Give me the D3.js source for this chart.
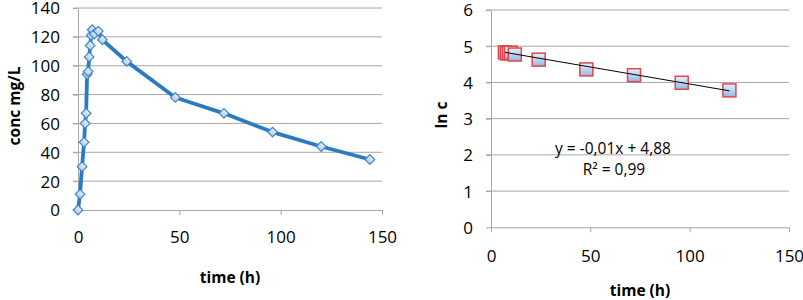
<!DOCTYPE html>
<html>
<head>
<meta charset="utf-8">
<script src="https://cdn.jsdelivr.net/npm/d3@7"></script>
<style>
  body { margin: 0; background: #fff; }
  svg text { font-family: "Open Sans", sans-serif; fill: #000; }
</style>
</head>
<body>
<svg width="803" height="300"></svg>
<script>
// concentration vs time (left panel)
let timeH = [0, 1, 2, 3, 3.5, 4, 4.5, 5, 5.5, 6, 6.5, 7, 8, 10, 12, 24, 48, 72, 96, 120, 144];
let conc = [0, 11, 30, 47, 60, 67, 94, 96, 106, 114, 121, 125, 122, 124, 118, 103, 78, 67, 54, 44, 35];
// ln c vs time (right panel)
let lnTime = [7, 8, 9, 10, 12, 24, 48, 72, 96, 120];
let lnC = [4.83, 4.80, 4.81, 4.82, 4.77, 4.63, 4.36, 4.20, 3.99, 3.78];
let trend = { slope: -0.0094, intercept: 4.896, from: 7, to: 120 };
let xTicks = [0, 50, 100, 150];
let leftYTicks = [0, 20, 40, 60, 80, 100, 120, 140];
let rightYTicks = [0, 1, 2, 3, 4, 5, 6];

const svg = d3.select("svg");
const grid = "#a6a6a6";

let defs = svg.append("defs");
function grad(id, c1, c2) {
    let g = defs.append("linearGradient").attr("id", id)
        .attr("x1", 0).attr("y1", 0).attr("x2", 0).attr("y2", 1);
    g.append("stop").attr("offset", "0%").attr("stop-color", c1);
    g.append("stop").attr("offset", "100%").attr("stop-color", c2);
}
grad("gDia", "#e4edf8", "#b8cfea");
grad("gSq", "#e8f0fa", "#93b8e2");

function panel(x, y, xTitle, yTitle, yTicks, opts) {
    let g = svg.append("g");
    // horizontal grid
    g.selectAll(".grid").data(yTicks.filter(d => d != 0)).enter().append("line")
        .attr("x1", x.range()[0] - 5).attr("x2", x.range()[1])
        .attr("y1", d => y(d)).attr("y2", d => y(d))
        .attr("stroke", grid).attr("stroke-width", 1);

    let ya = g.append("g").attr("transform", `translate(${x.range()[0]},0)`)
        .call(d3.axisLeft(y).tickValues(yTicks).tickFormat(d3.format("d"))
            .tickSize(5).tickSizeOuter(0).tickPadding(13));
    let xa = g.append("g").attr("transform", `translate(0,${y.range()[0]})`)
        .call(d3.axisBottom(x).tickValues(xTicks).tickSize(5).tickSizeOuter(0).tickPadding(opts.xPad));
    [ya, xa].forEach(a => {
        a.selectAll("path, line").attr("stroke", grid);
        a.selectAll("text").style("font-size", "17px").attr("fill", "#000");
    });
    ya.selectAll("text").attr("dy", "0.35em");

    g.append("text").attr("x", opts.xtx).attr("y", opts.xty)
        .attr("text-anchor", "middle").attr("dominant-baseline", "central")
        .style("font-size", "15.5px").style("font-weight", "bold").text(xTitle);
    g.append("text").attr("transform", `translate(${opts.ytx},${opts.yty}) rotate(-90)`)
        .attr("text-anchor", "middle").attr("dominant-baseline", "central")
        .style("font-size", "15.5px").style("font-weight", "bold").text(yTitle);
    return g;
}

// left
let x1 = d3.scaleLinear().domain([0, 150]).range([78, 382]);
let y1 = d3.scaleLinear().domain([0, 140]).range([210, 8]);
let gl = panel(x1, y1, "time (h)", "conc mg/L", leftYTicks,
    { xPad: 16, xtx: 230, xty: 277, ytx: 14, yty: 106 });

let pts = timeH.map((t, i) => [t, conc[i]]);
gl.append("path").datum(pts)
    .attr("d", d3.line().x(d => x1(d[0])).y(d => y1(d[1])))
    .attr("fill", "none").attr("stroke", "#2b7bc3").attr("stroke-width", 3.8)
    .attr("stroke-linejoin", "round");
gl.selectAll(".dia").data(pts).enter().append("rect")
    .attr("x", -3.4).attr("y", -3.4).attr("width", 6.8).attr("height", 6.8)
    .attr("transform", d => `translate(${x1(d[0])},${y1(d[1])}) rotate(45)`)
    .attr("fill", "url(#gDia)").attr("stroke", "#3f86cc").attr("stroke-width", 1.2);

// right
let x2 = d3.scaleLinear().domain([0, 150]).range([491, 789]);
let y2 = d3.scaleLinear().domain([0, 6]).range([227.3, 10]);
let gr = panel(x2, y2, "time (h)", "ln c", rightYTicks,
    { xPad: 17.5, xtx: 640, xty: 290, ytx: 441, yty: 115 });

let pts2 = lnTime.map((t, i) => [t, lnC[i]]);
gr.selectAll(".sq").data(pts2).enter().append("rect")
    .attr("x", d => x2(d[0]) - 6.5).attr("y", d => y2(d[1]) - 6.5)
    .attr("width", 13).attr("height", 13)
    .attr("fill", "url(#gSq)").attr("stroke", "#e0474c").attr("stroke-width", 1.5);
gr.append("line")
    .attr("x1", x2(trend.from)).attr("y1", y2(trend.intercept + trend.slope * trend.from))
    .attr("x2", x2(trend.to)).attr("y2", y2(trend.intercept + trend.slope * trend.to))
    .attr("stroke", "#000").attr("stroke-width", 1);

gr.append("text").attr("x", 613).attr("y", 147.5).attr("text-anchor", "middle")
    .attr("dominant-baseline", "central").style("font-size", "15.5px")
    .text("y = -0,01x + 4,88");
gr.append("text").attr("x", 614).attr("y", 169).attr("text-anchor", "middle")
    .attr("dominant-baseline", "central").style("font-size", "15.5px")
    .text("R² = 0,99");
</script>
</body>
</html>
